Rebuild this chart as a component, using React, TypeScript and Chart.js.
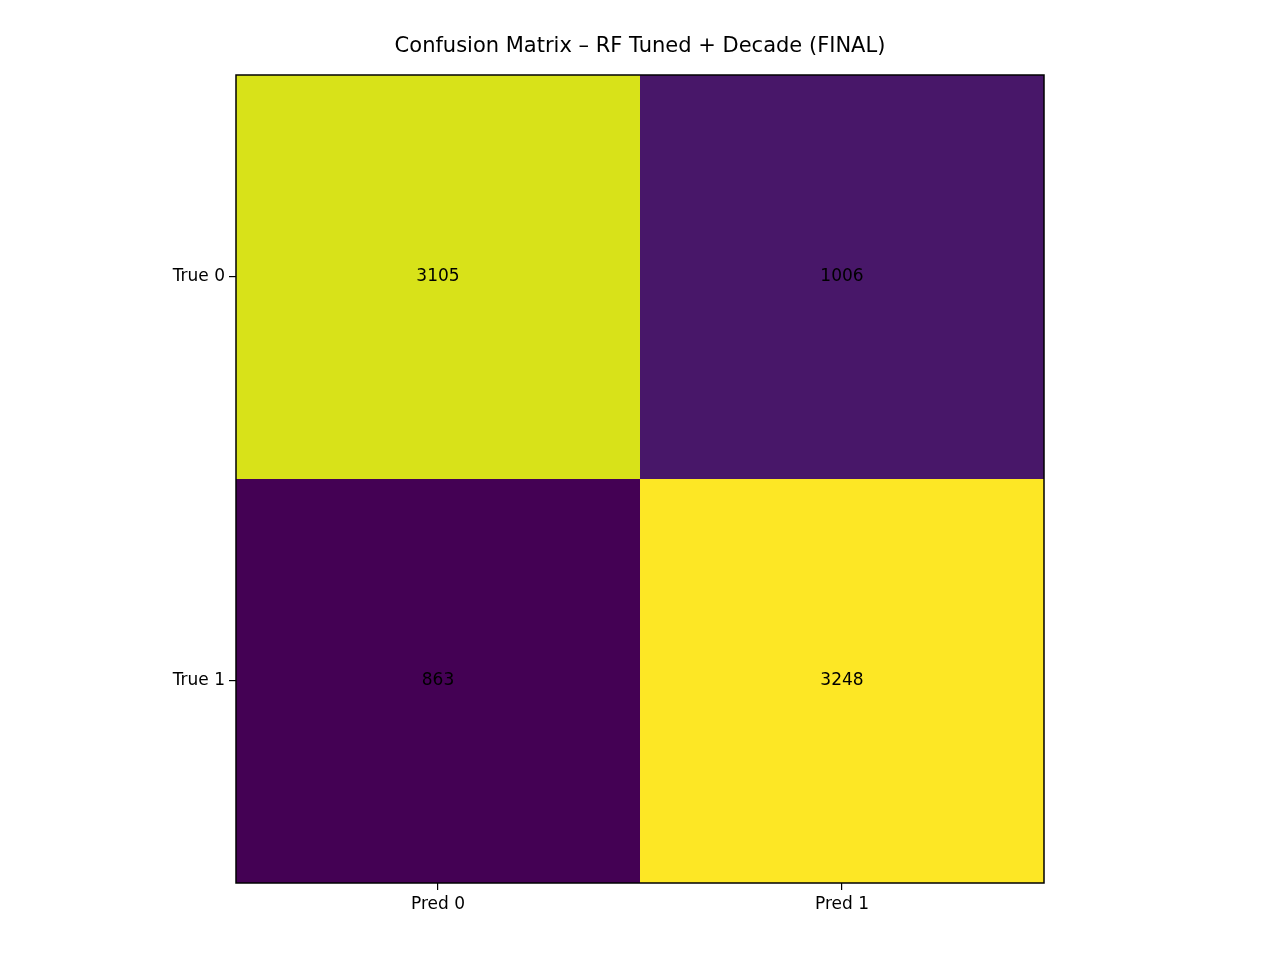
import React, { useEffect, useRef } from "react";
import { Chart, registerables } from "chart.js";
Chart.register(...registerables);

const predLabels = ["Pred 0", "Pred 1"];
const trueLabels = ["True 0", "True 1"];
const matrix = [
  [3105, 1006],
  [863, 3248],
];
const cellColors = [
  ["#d8e219", "#481769"],
  ["#440154", "#fde725"],
];
const title = "Confusion Matrix – RF Tuned + Decade (FINAL)";
const FONT = "'DejaVu Sans', sans-serif";

export default function App() {
  const ref = useRef<HTMLCanvasElement>(null);
  useEffect(() => {
    document.body.style.margin = "0";
    const points: any[] = [];
    matrix.forEach((row, r) => row.forEach((v, c) => points.push({ x: c, y: r, v })));
    const cellPlugin = {
      id: "cells",
      beforeDatasetsDraw(chart: any) {
        const { ctx, scales } = chart;
        const xs = scales.x, ys = scales.y;
        matrix.forEach((row, r) =>
          row.forEach((v, c) => {
            const x0 = xs.getPixelForValue(c - 0.5), x1 = xs.getPixelForValue(c + 0.5);
            const y0 = ys.getPixelForValue(r - 0.5), y1 = ys.getPixelForValue(r + 0.5);
            ctx.fillStyle = cellColors[r][c];
            ctx.fillRect(Math.min(x0, x1), Math.min(y0, y1), Math.abs(x1 - x0), Math.abs(y1 - y0));
            ctx.fillStyle = "#000";
            ctx.font = `17px ${FONT}`;
            ctx.textAlign = "center";
            ctx.textBaseline = "middle";
            ctx.fillText(String(v), (x0 + x1) / 2, (y0 + y1) / 2);
          })
        );
        const a = chart.chartArea;
        ctx.strokeStyle = "#000";
        ctx.lineWidth = 1.5;
        ctx.strokeRect(a.left, a.top, a.right - a.left, a.bottom - a.top);
        ctx.font = `21px ${FONT}`;
        ctx.textAlign = "center";
        ctx.textBaseline = "middle";
        ctx.fillText(title, (a.left + a.right) / 2, 47);
      },
    };
    const tickCfg = (labels: string[]) => ({
      type: "linear" as const,
      min: -0.5,
      max: 1.5,
      afterBuildTicks: (s: any) => { s.ticks = [{ value: 0 }, { value: 1 }]; },
      ticks: { callback: (v: any) => labels[v], color: "#000", font: { size: 17, family: FONT }, padding: 4 },
      grid: { drawOnChartArea: false, tickLength: 7, color: "#000", lineWidth: 1.2 },
      border: { display: false },
    });
    const chart = new Chart(ref.current!, {
      type: "scatter",
      data: { datasets: [{ data: points, pointRadius: 0 }] },
      options: {
        responsive: false,
        animation: false,
        layout: { padding: { top: 75, right: 236, left: 0, bottom: 0 } },
        plugins: { legend: { display: false }, tooltip: { enabled: false }, title: { display: false } },
        scales: {
          x: { ...tickCfg(predLabels), afterFit: (s: any) => { s.height = 77; } },
          y: { ...tickCfg(trueLabels), reverse: true, afterFit: (s: any) => { s.width = 236; } },
        },
      },
      plugins: [cellPlugin],
    });
    return () => chart.destroy();
  }, []);
  return <canvas ref={ref} width={1280} height={960} style={{ display: "block" }} />;
}
